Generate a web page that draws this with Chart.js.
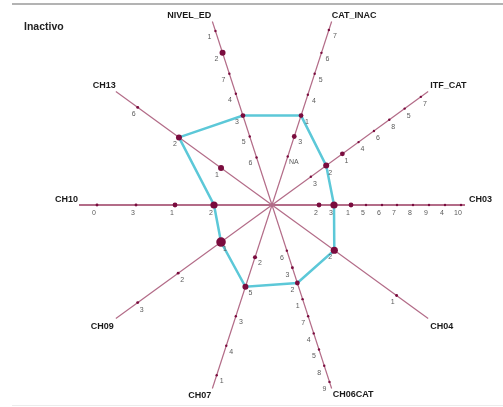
<!DOCTYPE html>
<html lang="en">

<head>
    <meta charset="UTF-8">
    <title>Inactivo</title>
    <script src="https://cdn.jsdelivr.net/npm/chart.js"></script>
    <style>
        html,
        body {
            margin: 0;
            padding: 0;
            width: 503px;
            height: 407px;
            background-color: #ffffff;
            font-family: Arial, "Liberation Sans", sans-serif;
            overflow: hidden;
        }

        #chart-container {
            position: relative;
            width: 503px;
            height: 407px;
        }
    </style>
</head>

<body>

    <div id="chart-container">
        <canvas id="star"></canvas>
    </div>

    <script>
        // axes, clockwise from the top-left one
        const axisNames = ['NIVEL_ED', 'CAT_INAC', 'ITF_CAT', 'CH03', 'CH04', 'CH06CAT', 'CH07', 'CH09', 'CH10', 'CH13'];

        // categories on each axis, from the centre outwards
        const categoryLabels = [
            ['6', '5', '3', '4', '7', '2', '1'],
            ['NA', '3', '1', '4', '5', '6', '7'],
            ['3', '2', '1', '4', '6', '8', '5', '7'],
            ['2', '3', '1', '5', '6', '7', '8', '9', '4', '10'],
            ['2', '1'],
            ['6', '3', '2', '1', '7', '4', '5', '8', '9'],
            ['2', '5', '3', '4', '1'],
            ['1', '2', '3'],
            ['2', '1', '3', '0'],
            ['1', '2', '6']
        ];

        // distance of each category from the centre (axis length = 193)
        const categoryPositions = [
            [50, 72, 94, 117, 138, 160, 183],
            [51, 72, 94, 116, 138, 160, 184],
            [48, 67, 87, 107, 126, 145, 164, 184],
            [47, 62, 79, 94, 110, 125, 141, 157, 173, 189],
            [77, 154],
            [48, 66, 82, 99, 117, 135, 152, 169, 186],
            [55, 86, 117, 148, 179],
            [63, 116, 166],
            [58, 97, 136, 175],
            [63, 115, 166]
        ];

        // relative weight of each category (dot size)
        const categoryWeights = [
            [1, 1, 2, 1, 1, 2.5, 1],
            [1, 2, 2, 1, 1, 1, 1],
            [1, 2.5, 2, 1, 1, 1, 1, 1],
            [2, 3, 2, 1, 1, 1, 1, 1, 1, 1],
            [3, 1.2],
            [1, 1.2, 2, 1, 1, 1, 1, 1, 1],
            [1.7, 2.5, 1, 1, 1],
            [4, 1.2, 1.2],
            [3, 2, 1.2, 1.2],
            [2.5, 2.5, 1.2]
        ];

        // category of the "Inactivo" profile on each axis
        const profileCategory = ['3', '1', '2', '3', '2', '2', '5', '1', '2', '2'];

        const AXIS_MAX = 193;

        // label placement (style only)
        const labelOffsets = [[-6, 6], [6, 6], [4, 7], [-3, 8], [-4, 7], [-5, 7], [5, 6], [4, 7], [-3, 8], [-4, 7]];
        const nameAlign = ['right', 'left', 'left', 'left', 'left', 'left', 'right', 'right', 'right', 'right'];
        const nameOffsets = [[-1, -6], [0, -6], [2, -6], [4, -5], [2, 8], [1, 6], [-1, 7], [-2, 8], [-1, -5], [0, -6]];

        const maxCats = Math.max(...categoryLabels.map(c => c.length));

        const profileData = axisNames.map((_, i) => {
            const k = categoryLabels[i].indexOf(profileCategory[i]);
            return categoryPositions[i][k];
        });

        const dotDatasets = [];
        for (let k = 0; k < maxCats; k++) {
            dotDatasets.push({
                label: 'cat' + k,
                data: axisNames.map((_, i) => categoryPositions[i][k] ?? null),
                catLabels: axisNames.map((_, i) => categoryLabels[i][k] ?? null),
                pointRadius: axisNames.map((_, i) => (categoryWeights[i][k] ?? 0) * 1.2),
                pointBackgroundColor: '#7a0c3e',
                pointBorderWidth: 0,
                showLine: false,
                fill: false
            });
        }

        const decorations = {
            id: 'decorations',
            beforeDraw(chart) {
                const ctx = chart.ctx;
                ctx.save();
                ctx.strokeStyle = '#9a9a9a';
                ctx.lineWidth = 1.5;
                ctx.beginPath();
                ctx.moveTo(12, 4);
                ctx.lineTo(503, 4);
                ctx.stroke();
                ctx.strokeStyle = '#ececec';
                ctx.lineWidth = 1;
                ctx.beginPath();
                ctx.moveTo(12, 405.5);
                ctx.lineTo(503, 405.5);
                ctx.stroke();
                ctx.fillStyle = '#222';
                ctx.font = 'bold 10.5px Arial';
                ctx.textAlign = 'left';
                ctx.textBaseline = 'middle';
                ctx.fillText('Inactivo', 24, 27);
                ctx.restore();
            },
            afterDatasetsDraw(chart) {
                const ctx = chart.ctx;
                const scale = chart.scales.r;
                ctx.save();
                ctx.textBaseline = 'middle';

                // category labels
                ctx.font = '7px Arial';
                ctx.fillStyle = '#5a5a5a';
                ctx.textAlign = 'center';
                chart.data.datasets.forEach((ds, d) => {
                    if (!ds.catLabels) return;
                    const meta = chart.getDatasetMeta(d);
                    meta.data.forEach((pt, i) => {
                        if (ds.catLabels[i] == null || pt.skip) return;
                        const off = labelOffsets[i];
                        ctx.fillText(ds.catLabels[i], pt.x + off[0], pt.y + off[1]);
                    });
                });

                // axis names
                ctx.font = 'bold 9px Arial';
                ctx.fillStyle = '#1a1a1a';
                axisNames.forEach((name, i) => {
                    const p = scale.getPointPositionForValue(i, scale.max);
                    ctx.textAlign = nameAlign[i];
                    ctx.fillText(name, p.x + nameOffsets[i][0], p.y + nameOffsets[i][1]);
                });
                ctx.restore();
            }
        };

        new Chart(document.getElementById('star'), {
            type: 'radar',
            data: {
                labels: axisNames,
                datasets: [
                    ...dotDatasets,
                    {
                        label: 'Inactivo',
                        data: profileData,
                        borderColor: '#5cc8d8',
                        borderWidth: 2.5,
                        pointRadius: 0,
                        fill: false,
                        tension: 0
                    }
                ]
            },
            options: {
                responsive: true,
                maintainAspectRatio: false,
                animation: false,
                layout: {
                    padding: { left: 41, right: 0, top: 12, bottom: 9 }
                },
                scales: {
                    r: {
                        min: 0,
                        max: AXIS_MAX,
                        startAngle: -18,
                        grid: { display: false },
                        ticks: { display: false },
                        pointLabels: { display: false },
                        angleLines: {
                            display: true,
                            color: '#b36c88',
                            lineWidth: (ctx) => (ctx.index === 3 || ctx.index === 8) ? 1.8 : 1.2
                        }
                    }
                },
                plugins: {
                    legend: { display: false },
                    tooltip: { enabled: false },
                    title: { display: false }
                }
            },
            plugins: [decorations]
        });
    </script>
</body>

</html>
